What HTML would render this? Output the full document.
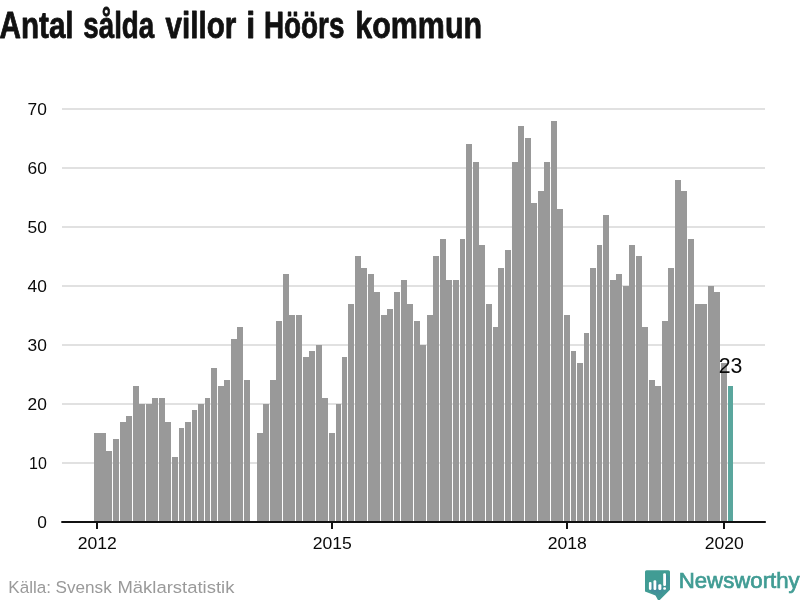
<!DOCTYPE html>
<html lang="sv"><head><meta charset="utf-8"><title>Antal sålda villor i Höörs kommun</title>
<style>
html,body{margin:0;padding:0;background:#fff;}
body{width:800px;height:600px;overflow:hidden;position:relative;font-family:"Liberation Sans",sans-serif;}
svg{display:block;position:absolute;left:0;top:0;}
text{font-family:"Liberation Sans",sans-serif;}
.t{font-size:16px;fill:#0a0a0a;}
.g{fill:#e1e1e1;}
.b{fill:#999;}
</style></head><body>
<svg width="800" height="600" viewBox="0 0 800 600">
<g id="title" font-size="36.4" font-weight="bold" fill="#111" stroke="#111" stroke-width="0.8" stroke-linejoin="round">
<text transform="translate(-0.51,38.4) scale(0.8148,1)">Antal</text>
<text transform="translate(83.24,38.4) scale(0.7634,1)">sålda</text>
<text transform="translate(165.5,38.4) scale(0.8138,1)">villor</text>
<text transform="translate(246.23,38.4) scale(0.8833,1)">i</text>
<text transform="translate(263.97,38.4) scale(0.7647,1)">Höörs</text>
<text transform="translate(355.33,38.4) scale(0.8358,1)">kommun</text>
</g>
<rect class="g" x="62" y="462" width="703" height="2"/>
<rect class="g" x="62" y="403" width="703" height="2"/>
<rect class="g" x="62" y="344" width="703" height="2"/>
<rect class="g" x="62" y="285" width="703" height="2"/>
<rect class="g" x="62" y="226" width="703" height="2"/>
<rect class="g" x="62" y="167" width="703" height="2"/>
<rect class="g" x="62" y="108" width="703" height="2"/>
<text class="t" transform="translate(46.8,528.48) scale(1.085,1)" text-anchor="end">0</text>
<text class="t" transform="translate(46.8,469.445) scale(1.0,1)" text-anchor="end">10</text>
<text class="t" transform="translate(46.8,410.41) scale(1.085,1)" text-anchor="end">20</text>
<text class="t" transform="translate(46.8,351.375) scale(1.085,1)" text-anchor="end">30</text>
<text class="t" transform="translate(46.8,292.34) scale(1.085,1)" text-anchor="end">40</text>
<text class="t" transform="translate(46.8,233.305) scale(1.085,1)" text-anchor="end">50</text>
<text class="t" transform="translate(46.8,174.27) scale(1.085,1)" text-anchor="end">60</text>
<text class="t" transform="translate(46.8,115.235) scale(1.085,1)" text-anchor="end">70</text>
<g shape-rendering="crispEdges">
<rect class="b" x="94" y="433" width="6" height="88"/>
<rect class="b" x="100" y="433" width="6" height="88"/>
<rect class="b" x="106" y="451" width="6" height="70"/>
<rect class="b" x="113" y="439" width="6" height="82"/>
<rect class="b" x="120" y="422" width="6" height="99"/>
<rect class="b" x="126" y="416" width="6" height="105"/>
<rect class="b" x="133" y="386" width="6" height="135"/>
<rect class="b" x="139" y="404" width="6" height="117"/>
<rect class="b" x="146" y="404" width="6" height="117"/>
<rect class="b" x="152" y="398" width="6" height="123"/>
<rect class="b" x="159" y="398" width="6" height="123"/>
<rect class="b" x="165" y="422" width="6" height="99"/>
<rect class="b" x="172" y="457" width="6" height="64"/>
<rect class="b" x="179" y="428" width="5" height="93"/>
<rect class="b" x="185" y="422" width="6" height="99"/>
<rect class="b" x="192" y="410" width="5" height="111"/>
<rect class="b" x="198" y="404" width="6" height="117"/>
<rect class="b" x="205" y="398" width="5" height="123"/>
<rect class="b" x="211" y="368" width="6" height="153"/>
<rect class="b" x="218" y="386" width="6" height="135"/>
<rect class="b" x="224" y="380" width="6" height="141"/>
<rect class="b" x="231" y="339" width="6" height="182"/>
<rect class="b" x="237" y="327" width="6" height="194"/>
<rect class="b" x="244" y="380" width="6" height="141"/>
<rect class="b" x="257" y="433" width="6" height="88"/>
<rect class="b" x="263" y="404" width="6" height="117"/>
<rect class="b" x="270" y="380" width="6" height="141"/>
<rect class="b" x="276" y="321" width="6" height="200"/>
<rect class="b" x="283" y="274" width="6" height="247"/>
<rect class="b" x="289" y="315" width="6" height="206"/>
<rect class="b" x="296" y="315" width="6" height="206"/>
<rect class="b" x="303" y="357" width="6" height="164"/>
<rect class="b" x="309" y="351" width="6" height="170"/>
<rect class="b" x="316" y="345" width="6" height="176"/>
<rect class="b" x="322" y="398" width="6" height="123"/>
<rect class="b" x="329" y="433" width="6" height="88"/>
<rect class="b" x="336" y="404" width="5" height="117"/>
<rect class="b" x="342" y="357" width="5" height="164"/>
<rect class="b" x="348" y="304" width="6" height="217"/>
<rect class="b" x="355" y="256" width="6" height="265"/>
<rect class="b" x="361" y="268" width="6" height="253"/>
<rect class="b" x="368" y="274" width="6" height="247"/>
<rect class="b" x="374" y="292" width="6" height="229"/>
<rect class="b" x="381" y="315" width="6" height="206"/>
<rect class="b" x="387" y="309" width="6" height="212"/>
<rect class="b" x="394" y="292" width="6" height="229"/>
<rect class="b" x="401" y="280" width="6" height="241"/>
<rect class="b" x="407" y="304" width="6" height="217"/>
<rect class="b" x="414" y="321" width="6" height="200"/>
<rect class="b" x="420" y="345" width="6" height="176"/>
<rect class="b" x="427" y="315" width="6" height="206"/>
<rect class="b" x="433" y="256" width="6" height="265"/>
<rect class="b" x="440" y="239" width="6" height="282"/>
<rect class="b" x="446" y="280" width="6" height="241"/>
<rect class="b" x="453" y="280" width="6" height="241"/>
<rect class="b" x="460" y="239" width="5" height="282"/>
<rect class="b" x="466" y="144" width="6" height="377"/>
<rect class="b" x="473" y="162" width="6" height="359"/>
<rect class="b" x="479" y="245" width="6" height="276"/>
<rect class="b" x="486" y="304" width="6" height="217"/>
<rect class="b" x="493" y="327" width="5" height="194"/>
<rect class="b" x="498" y="268" width="6" height="253"/>
<rect class="b" x="505" y="250" width="6" height="271"/>
<rect class="b" x="512" y="162" width="6" height="359"/>
<rect class="b" x="518" y="126" width="6" height="395"/>
<rect class="b" x="525" y="138" width="6" height="383"/>
<rect class="b" x="531" y="203" width="6" height="318"/>
<rect class="b" x="538" y="191" width="6" height="330"/>
<rect class="b" x="544" y="162" width="6" height="359"/>
<rect class="b" x="551" y="121" width="6" height="400"/>
<rect class="b" x="557" y="209" width="6" height="312"/>
<rect class="b" x="564" y="315" width="6" height="206"/>
<rect class="b" x="571" y="351" width="5" height="170"/>
<rect class="b" x="577" y="363" width="6" height="158"/>
<rect class="b" x="584" y="333" width="5" height="188"/>
<rect class="b" x="590" y="268" width="6" height="253"/>
<rect class="b" x="597" y="245" width="5" height="276"/>
<rect class="b" x="603" y="215" width="6" height="306"/>
<rect class="b" x="610" y="280" width="6" height="241"/>
<rect class="b" x="616" y="274" width="6" height="247"/>
<rect class="b" x="623" y="286" width="6" height="235"/>
<rect class="b" x="629" y="245" width="6" height="276"/>
<rect class="b" x="636" y="256" width="6" height="265"/>
<rect class="b" x="642" y="327" width="6" height="194"/>
<rect class="b" x="649" y="380" width="6" height="141"/>
<rect class="b" x="655" y="386" width="6" height="135"/>
<rect class="b" x="662" y="321" width="6" height="200"/>
<rect class="b" x="668" y="268" width="6" height="253"/>
<rect class="b" x="675" y="180" width="6" height="341"/>
<rect class="b" x="681" y="191" width="6" height="330"/>
<rect class="b" x="688" y="239" width="6" height="282"/>
<rect class="b" x="695" y="304" width="6" height="217"/>
<rect class="b" x="701" y="304" width="6" height="217"/>
<rect class="b" x="708" y="286" width="6" height="235"/>
<rect class="b" x="714" y="292" width="6" height="229"/>
<rect class="b" x="721" y="363" width="6" height="158"/>
<rect x="728" y="386" width="5" height="135" fill="#5aa69d"/>
</g>
<rect x="61.3" y="521" width="704.5" height="2" fill="#111"/>
<rect x="96" y="523" width="2" height="6" fill="#111"/>
<text class="t" transform="translate(97.3,548.8) scale(1.1,1)" text-anchor="middle">2012</text>
<rect x="331" y="523" width="2" height="6" fill="#111"/>
<text class="t" transform="translate(332.3,548.8) scale(1.1,1)" text-anchor="middle">2015</text>
<rect x="566" y="523" width="2" height="6" fill="#111"/>
<text class="t" transform="translate(567.3,548.8) scale(1.1,1)" text-anchor="middle">2018</text>
<rect x="723" y="523" width="2" height="6" fill="#111"/>
<text class="t" transform="translate(724.3,548.8) scale(1.1,1)" text-anchor="middle">2020</text>
<text id="val" transform="translate(730.6,372.8) scale(0.95,1)" text-anchor="middle" font-size="22.4" fill="#0a0a0a">23</text>
<g id="src" font-size="16.5" fill="#9a9a9a">
<text transform="translate(8.37,593.4) scale(1.0333,1)">Källa:</text>
<text transform="translate(55.56,593.4) scale(1.0396,1)">Svensk</text>
<text transform="translate(117.38,593.4) scale(1.1204,1)">Mäklarstatistik</text>
</g>
<defs><clipPath id="ic"><path d="M646.6 570.2H668.4Q670 570.2 670 571.8V589.7L658.6 601.2L655.5 595.5L645 591.5V571.8Q645 570.2 646.6 570.2Z"/></clipPath><linearGradient id="sh" gradientUnits="userSpaceOnUse" x1="651" y1="583" x2="664" y2="596"><stop offset="0" stop-color="#4279a6" stop-opacity="1"/><stop offset="1" stop-color="#4279a6" stop-opacity="0"/></linearGradient></defs>
<g id="logo">
<path d="M646.6 570.2H668.4Q670 570.2 670 571.8V589.7L658.6 601.2L655.5 595.5L645 591.5V571.8Q645 570.2 646.6 570.2Z" fill="#419c94"/>
<g clip-path="url(#ic)" fill="url(#sh)" opacity="0.55">
<path d="M651.5 582.5L675.5 606.5L673.4 613.9L649.4 589.9Z"/>
<path d="M656.3 580.7L680.3 604.7L678 613.9L654 589.9Z"/>
<path d="M661.4 584.8L685.4 608.8L682.8 613.9L658.8 589.9Z"/>
<path d="M666 573.8L690 597.8L687.7 610L663.7 586Z"/>
<path d="M666 587.7L690 611.7L687.7 613.8L663.7 589.8Z"/>
</g>
<rect x="648.9" y="582" width="2.6" height="7.9" rx="1.1" fill="#fff"/>
<rect x="653.5" y="580.2" width="2.8" height="9.7" rx="1.2" fill="#fff"/>
<rect x="658.3" y="584.3" width="3.1" height="5.6" rx="1.1" fill="#fff"/>
<rect x="663.2" y="573.3" width="2.8" height="12.7" rx="1.2" fill="#fff"/>
<rect x="663.2" y="587.2" width="2.8" height="2.6" rx="1.1" fill="#fff"/>
<text id="nw" transform="translate(678.7,588) scale(1.02,1)" font-size="21.8" fill="#419c94" stroke="#419c94" stroke-width="0.7">Newsworthy</text>
</g>
</svg>
</body></html>
